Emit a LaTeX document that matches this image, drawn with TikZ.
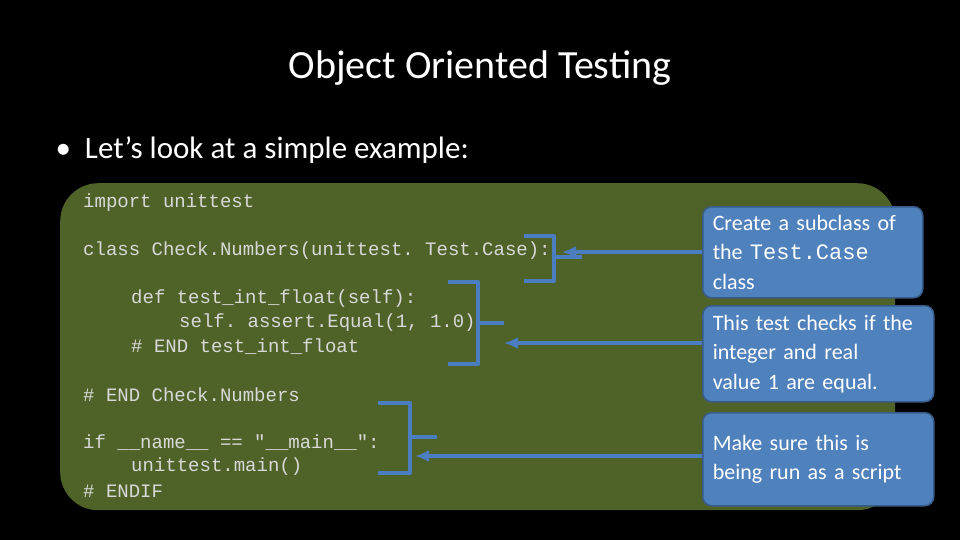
\documentclass[tikz,border=0pt]{standalone}
\usepackage{fontspec}
\usetikzlibrary{arrows.meta}
\setmainfont{Carlito}
\setmonofont{Liberation Mono}
\begin{document}
\begin{tikzpicture}[x=1pt,y=-1pt,
 code/.style={anchor=west,inner sep=0pt,text=white!85!black,font=\fontsize{19}{24}\selectfont\ttfamily},
 callout/.style={draw={rgb,255:red,56;green,93;blue,138}, line width=1.5pt, fill={rgb,255:red,79;green,129;blue,189}, rounded corners=9pt, text=white, align=left, anchor=north west, inner xsep=10pt, inner ysep=6pt, text width=211pt, font=\fontsize{22}{29.5}\selectfont},
 brk/.style={draw={rgb,255:red,74;green,126;blue,193}, line width=4.5pt, line join=round},
 arr/.style={brk, line width=3.5pt, -{Latex[length=14pt,width=12pt]}}]
\useasboundingbox[fill=black] (0,0) rectangle (960,540);
\node[text=white,font=\fontsize{40}{46}\selectfont] (title) at (480,68) {Object Oriented Testing};
\node[text=white,anchor=west,font=\fontsize{31}{36}\selectfont] (bullet) at (52,150) {\textbullet\ \ Let’s look at a simple example:};
\node[fill={rgb,255:red,79;green,98;blue,40},rounded corners=38pt,minimum width=835pt,minimum height=327pt,anchor=north west,inner sep=0pt] (panel) at (60,183) {};
\node[code] (c1) at (83,203) {import unittest};
\node[code] (c2) at (83,251) {class Check.Numbers(unittest. Test.Case):};
\node[code] (c3) at (131,299) {def test\_int\_float(self):};
\node[code] (c4) at (179,323) {self. assert.Equal(1, 1.0)};
\node[code] (c5) at (131,347) {\# END test\_int\_float};
\node[code] (c6) at (83,395) {\# END Check.Numbers};
\node[code] (c7) at (83,443) {if \_\_name\_\_ == "\_\_main\_\_":};
\node[code] (c8) at (131,467) {unittest.main()};
\node[code] (c9) at (83,491) {\# ENDIF};
\node[callout,minimum height=91pt,text width=200pt] (b1) at (702,206) {Create a subclass of\\ the {\ttfamily Test.Case} class};
\node[callout,minimum height=96pt] (b2) at (702,305) {This test checks if the\\ integer and real\\ value 1 are equal.};
\node[callout,minimum height=93pt] (b3) at (702,412) {Make sure this is\\ being run as a script};
\coordinate (t1) at (582,257);
\coordinate (t2) at (504,323);
\coordinate (t3) at (437,437);
\draw[brk] (524,236) -- (554,236) -- (554,281) -- (524,281) (554,257) -- (t1);
\draw[brk] (448,282) -- (478,282) -- (478,364) -- (448,364) (478,323) -- (t2);
\draw[brk] (378,403) -- (410,403) -- (410,473) -- (378,473) (410,437) -- (t3);
\draw[arr] (b1.west |- 0,252) -- (562,252);
\draw[arr] (b2.west |- 0,343) -- (504,343);
\draw[arr] (b3.west |- 0,456) -- (415,456);
\end{tikzpicture}
\end{document}
